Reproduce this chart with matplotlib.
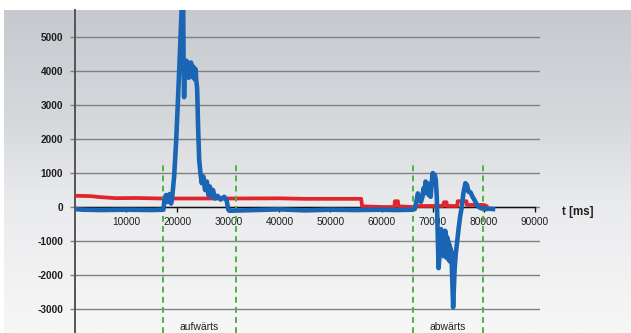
import numpy as np
import matplotlib
matplotlib.use("Agg")
import matplotlib.pyplot as plt
from matplotlib.colors import LinearSegmentedColormap

plt.rcParams['font.family'] = ['Liberation Sans', 'DejaVu Sans']

# ---- data -------------------------------------------------------------
x_ticks = [10000, 20000, 30000, 40000, 50000, 60000, 70000, 80000, 90000]
y_ticks = [-3000, -2000, -1000, 0, 1000, 2000, 3000, 4000, 5000]

# phase markers (ms) and their captions
phase_bounds = [(17200, 31500), (66150, 79850)]
phase_labels = ["aufwärts", "abwärts"]

# red trace: time [ms], value
red_t = [0, 3000, 5000, 8000, 12000, 17000, 30000, 40000, 45000, 56000,
         56200, 60000, 62500, 62600, 63200, 63300, 66000, 67000, 72000,
         72200, 72700, 72800, 74800, 74900, 76600, 76700, 80000, 80500]
red_v = [330, 320, 290, 260, 265, 250, 250, 255, 240, 240,
         20, 0, 0, 170, 170, 20, 0, 30, 30,
         140, 140, 30, 30, 170, 170, 60, 60, 30]

# blue trace: time [ms], value
blue_t = [0, 1500, 5000, 10000, 15000, 17300, 17500, 17800, 18100, 18500,
          18800, 19000, 19400, 19800, 20150, 20550, 20850, 21000, 21150,
          21250, 21350, 21500, 21650, 21800, 21950, 22100, 22250, 22400,
          22550, 22700, 22850, 23000, 23150, 23300, 23450, 23600, 23750,
          23900, 24100, 24300, 24550, 24800, 25100, 25450, 25800, 26100,
          26400, 26700, 27000, 27400, 27900, 28500, 29200, 29700, 30000,
          30300, 35000, 40000, 45000, 50000, 55000, 60000, 63000, 66000,
          66500, 66800, 67100, 67400, 67700, 68000, 68200, 68400, 68600,
          68800, 69000, 69200, 69400, 69600, 69800, 70000, 70200, 70400,
          70600, 70800, 71000, 71150, 71300, 71450, 71550, 71650, 71750,
          71850, 71950, 72050, 72150, 72250, 72350, 72450, 72550, 72650,
          72750, 72850, 72950, 73050, 73150, 73250, 73350, 73450, 73550,
          73650, 73750, 73850, 74000, 74150, 74300, 74500, 74800, 75100,
          75400, 75700, 76000, 76400, 76700, 77000, 77400, 77800, 78200,
          78600, 79000, 79500, 80000, 80500, 81000, 81800]
blue_v = [-60, -80, -90, -80, -90, -80, 200, 350, 150, 380,
          100, 250, 900, 1950, 3150, 4600, 5800, 6300, 6300,
          4300, 3230, 4180, 3900, 4300, 3850, 4250, 3800, 4200,
          3900, 4250, 3850, 4150, 3800, 4100, 3750, 4050, 3700,
          3500, 2300, 1400, 1000, 700, 900, 500, 750, 350,
          600, 300, 500, 250, 330, 220, 300, 180, -80,
          -110, -90, -70, -100, -80, -90, -80, -90, -80,
          -60, 150, 400, 250, 150, 300, 550, 400, 750,
          600, 700, 350, 500, 300, 700, 1000, 750, 950,
          800, 300, -900, -1800, -1500, -700, -1400, -650, -1350,
          -700, -1300, -750, -1450, -800, -1250, -700, -1400, -850,
          -1500, -900, -1450, -1000, -1550, -1100, -1600, -1200, -1500,
          -1300, -1800, -2300, -2950, -2400, -1800, -1400, -1000, -600,
          -250, 0, 400, 700, 650, 450, 430, 300, 200,
          80, 0, -40, -30, -60, -50, -60]

# ---- figure -----------------------------------------------------------
W, H, DPI = 631, 333, 100
fig = plt.figure(figsize=(W / DPI, H / DPI), dpi=DPI, facecolor='white')

# soft grey-to-white backdrop
bg = fig.add_axes([4 / W, 0, (W - 4) / W, (H - 10) / H], zorder=0)
bg_cmap = LinearSegmentedColormap.from_list(
    'backdrop', [(0.0, '#c6cacf'), (0.35, '#d6d9dc'), (0.6, '#eaebed'),
                 (1.0, '#f7f7f7')])
grad = np.linspace(0, 1, 256).reshape(-1, 1)
bg.imshow(grad, aspect='auto', cmap=bg_cmap, extent=[0, 1, 1, 0])
bg.set_axis_off()

ax = fig.add_axes([75 / W, 0, 465 / W, (H - 10) / H], zorder=1)
ax.patch.set_alpha(0)
ax.set_xlim(0, 91000)
ax.set_ylim(-3706, 5794)

# grid
ax.set_yticks(y_ticks)
ax.set_yticklabels([str(v) for v in y_ticks])
ax.yaxis.grid(True, color='#808080', lw=1.0)
ax.set_axisbelow(True)
ax.tick_params(axis='y', direction='out', length=3.5, width=1.0,
               color='#808080', pad=5, labelsize=7.3, labelcolor='#1e1e1e')
for lbl in ax.get_yticklabels():
    lbl.set_fontweight('bold')

ax.set_xticks(x_ticks)
ax.set_xticklabels([str(v) for v in x_ticks])
ax.tick_params(axis='x', direction='out', length=3.5, width=1.0,
               color='#111111', pad=4, labelsize=7.3, labelcolor='#1e1e1e')
for lbl in ax.get_xticklabels():
    lbl.set_fontweight('bold')

for s in ('top', 'right'):
    ax.spines[s].set_visible(False)
ax.spines['left'].set_color('#555555')
ax.spines['left'].set_linewidth(1.4)
ax.spines['bottom'].set_position(('data', 0))
ax.spines['bottom'].set_bounds(0, 90000)
ax.spines['bottom'].set_color('#111111')
ax.spines['bottom'].set_linewidth(1.0)

# phase markers
for (a, b), name in zip(phase_bounds, phase_labels):
    ax.vlines([a, b], -3706, 1350, colors='#4fb443', linestyles=(0, (3, 2.2)),
              lw=1.4, zorder=4)
    ax.text((a + b) / 2, -3690, name, ha='center', va='bottom', fontsize=7.5,
            color='#222222', clip_on=False)

# traces
ax.plot(red_t, red_v, color='#e0252b', lw=2.7, solid_joinstyle='round',
        zorder=3)
ax.plot(blue_t, blue_v, color='#1a66b4', lw=3.3, solid_joinstyle='round',
        zorder=5)

ax.text(95300, -150, "t [ms]", ha='left', va='center', fontsize=8.3,
        fontweight='bold', color='#1e1e1e', clip_on=False)

fig.savefig('out.png', dpi=DPI, facecolor='white')
